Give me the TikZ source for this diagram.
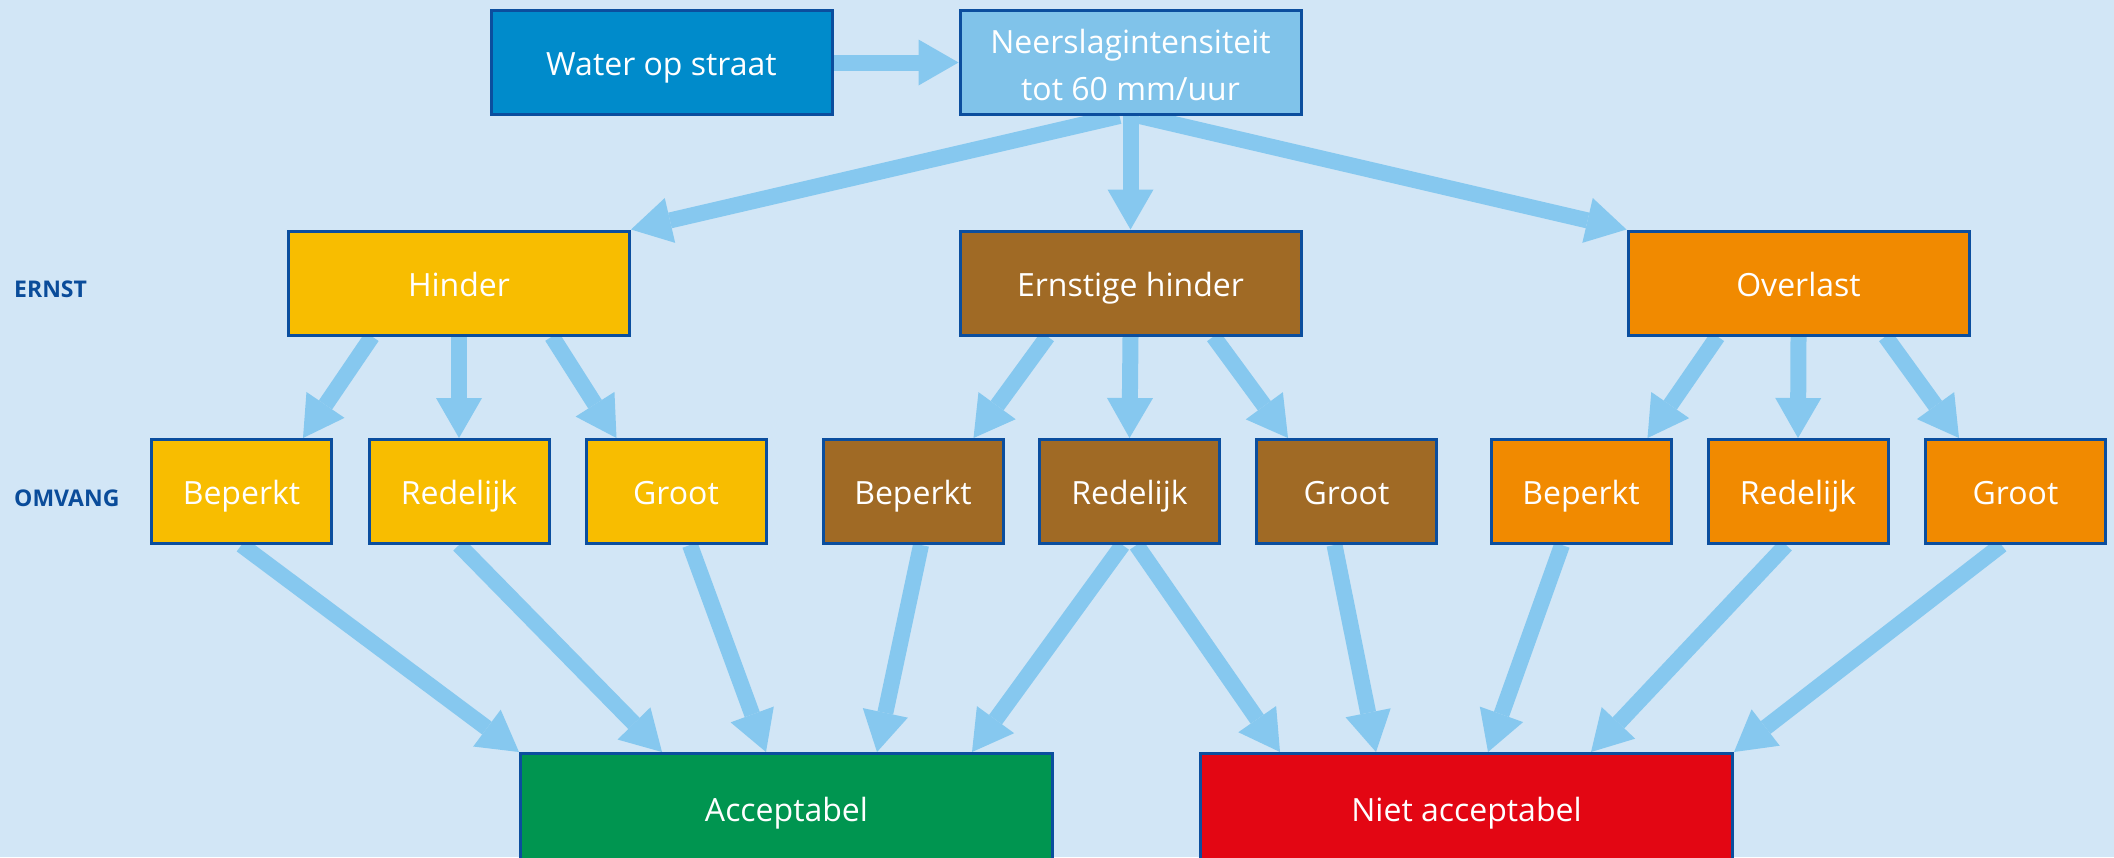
\documentclass[tikz,border=0pt]{standalone}
\usepackage{fontspec}
\setmainfont{Open Sans}
\usetikzlibrary{arrows.meta,calc}
\pgfdeclarelayer{background}
\pgfsetlayers{background,main}
\definecolor{bg}{HTML}{D2E6F6}
\definecolor{arrc}{HTML}{86C8EF}
\definecolor{bord}{HTML}{0B4E9E}
\definecolor{cwater}{HTML}{008BCB}
\definecolor{cneer}{HTML}{80C3EA}
\definecolor{chind}{HTML}{F8BD00}
\definecolor{cernst}{HTML}{A06A25}
\definecolor{cover}{HTML}{F18A00}
\definecolor{cacc}{HTML}{009550}
\definecolor{cniet}{HTML}{E30613}
\definecolor{clab}{HTML}{0A4C9A}
\begin{document}
\begin{tikzpicture}[x=1pt,y=-1pt,
 box/.style={draw=bord, line width=3pt, rectangle, inner sep=0pt, text=white, font=\fontsize{32}{38}\selectfont, align=center, text height=32pt, text depth=6pt},
 wide/.style={box, minimum width=341pt, minimum height=104pt},
 small/.style={box, minimum width=180pt, minimum height=104pt},
 big/.style={box, minimum width=532pt, minimum height=109pt},
 arr/.style={draw=arrc, line width=16pt, -{Triangle[length=40pt,width=46pt,line width=0pt]}},
 lab/.style={text=clab, font=\bfseries\fontsize{23}{28}\selectfont, anchor=west, inner sep=0pt}
]
\useasboundingbox (0,0) rectangle (2114,857);
\clip (0,0) rectangle (2114,857);
% nodes
\node[wide, fill=cwater] (water) at (661.5,62.5) {Water op straat};
\node[wide, fill=cneer, font=\fontsize{32}{47}\selectfont, text height=80pt, text depth=4.7pt] (neer) at (1130.5,62.5) {Neerslagintensiteit\\tot 60 mm/uur};
\node[wide, fill=chind] (hind) at (459,283) {Hinder};
\node[wide, fill=cernst] (ernst) at (1130.5,283) {Ernstige hinder};
\node[wide, fill=cover] (over) at (1798.5,283) {Overlast};
\node[small, fill=chind] (hb) at (241.5,491.5) {Beperkt};
\node[small, fill=chind] (hr) at (459,491.5) {Redelijk};
\node[small, fill=chind] (hg) at (676,491.5) {Groot};
\node[small, fill=cernst] (eb) at (913,491.5) {Beperkt};
\node[small, fill=cernst] (er) at (1129.5,491.5) {Redelijk};
\node[small, fill=cernst] (eg) at (1346.5,491.5) {Groot};
\node[small, fill=cover] (ob) at (1581,491.5) {Beperkt};
\node[small, fill=cover] (ovr) at (1798,491.5) {Redelijk};
\node[small, fill=cover] (ogr) at (2015.5,491.5) {Groot};
\node[big, fill=cacc] (acc) at (786.5,808) {Acceptabel};
\node[big, fill=cniet] (niet) at (1466.5,808) {Niet acceptabel};
\node[lab] (ernstlab) at (14,289) {ERNST};
\node[lab] (omvlab) at (14,498) {OMVANG};
% connectors
\begin{pgfonlayer}{background}
\fill[bg] (0,0) rectangle (2114,857);
\draw[arr] (water.east) -- (neer.west);
\draw[arr] ([xshift=-11pt]neer.south) -- (hind.north east);
\draw[arr] (neer.south) -- (ernst.north);
\draw[arr] ([xshift=9pt]neer.south) -- (over.north west);
\draw[arr] ([xshift=-87pt]hind.south) -- ([xshift=-30pt]hb.north east);
\draw[arr] (hind.south) -- (hr.north);
\draw[arr] ([xshift=93pt]hind.south) -- ([xshift=32pt]hg.north west);
\draw[arr] ([xshift=-83pt]ernst.south) -- ([xshift=-31pt]eb.north east);
\draw[arr] (ernst.south) -- (er.north);
\draw[arr] ([xshift=83pt]ernst.south) -- ([xshift=33pt]eg.north west);
\draw[arr] ([xshift=-81pt]over.south) -- ([xshift=-25pt]ob.north east);
\draw[arr] (over.south) -- (ovr.north);
\draw[arr] ([xshift=87pt]over.south) -- ([xshift=35pt]ogr.north west);
\draw[arr] (hb.south) -- (acc.north west);
\draw[arr] (hr.south) -- ([xshift=143pt]acc.north west);
\draw[arr] ([xshift=14pt]hg.south) -- ([xshift=247pt]acc.north west);
\draw[arr] ([xshift=8pt]eb.south) -- ([xshift=358pt]acc.north west);
\draw[arr] ([xshift=-7pt]er.south) -- ([xshift=-82pt]acc.north east);
\draw[arr] ([xshift=7pt]er.south) -- ([xshift=81pt]niet.north west);
\draw[arr] ([xshift=-12pt]eg.south) -- ([xshift=177pt]niet.north west);
\draw[arr] ([xshift=-19pt]ob.south) -- ([xshift=289pt]niet.north west);
\draw[arr] ([xshift=-12pt]ovr.south) -- ([xshift=-143pt]niet.north east);
\draw[arr] ([xshift=-14pt]ogr.south) -- (niet.north east);
\end{pgfonlayer}
\end{tikzpicture}
\end{document}
